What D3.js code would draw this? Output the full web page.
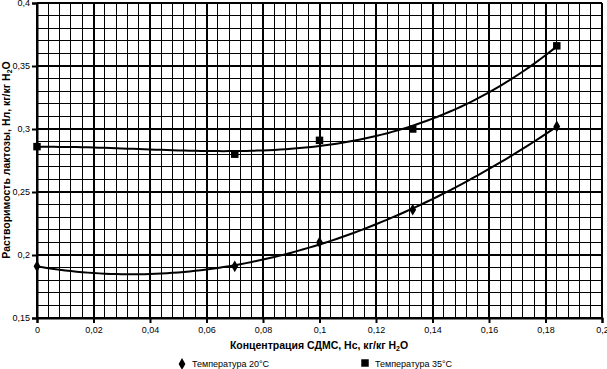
<!DOCTYPE html>
<html>
<head>
<meta charset="utf-8">
<script src="https://cdn.jsdelivr.net/npm/d3@7"></script>
<style>
  body { margin: 0; background: #fff; }
  svg { display: block; font-family: "Liberation Sans", Arial, sans-serif; }
</style>
</head>
<body>
<div id="chart"></div>
<script>
// Data
var concentration = [0, 0.07, 0.1, 0.133, 0.184];
var solubility20 = [0.191, 0.191, 0.21, 0.236, 0.302];
var solubility35 = [0.286, 0.280, 0.291, 0.300, 0.366];
var seriesNames = ["Температура 20°C", "Температура 35°C"];
var trendNames = ["Полиномиальный (Температура 20°C)", "Полиномиальный (Температура 35°C)"];
var xTicks = [0, 0.02, 0.04, 0.06, 0.08, 0.1, 0.12, 0.14, 0.16, 0.18, 0.2];
var yTicks = [0.15, 0.2, 0.25, 0.3, 0.35, 0.4];

// Basic size information
var width = 607, height = 369;
var plot = {left: 37, right: 602, top: 3, bottom: 318};
var trendOrder = 3;

var svg = d3.select("#chart").append("svg")
    .attr("width", width)
    .attr("height", height);

var x = d3.scaleLinear().domain([0, 0.2]).range([plot.left, plot.right]);
var y = d3.scaleLinear().domain([0.15, 0.4]).range([plot.bottom, plot.top]);

var fmt = d => String(+d.toFixed(3)).replace(".", ",");

// Grid: minor lines first, majors on top
var grid = svg.append("g").attr("shape-rendering", "crispEdges");
var xMinor = d3.range(0, 0.2001, 0.004);
var yMinor = d3.range(0.15, 0.4001, 0.01);
grid.selectAll(".vminor").data(xMinor).join("line")
    .attr("x1", d => x(d)).attr("x2", d => x(d))
    .attr("y1", plot.top).attr("y2", plot.bottom)
    .attr("stroke", "#000").attr("stroke-width", 1);
grid.selectAll(".hminor").data(yMinor).join("line")
    .attr("y1", d => y(d)).attr("y2", d => y(d))
    .attr("x1", plot.left).attr("x2", plot.right)
    .attr("stroke", "#000").attr("stroke-width", 1);
grid.selectAll(".vmajor").data(xTicks).join("line")
    .attr("x1", d => x(d)).attr("x2", d => x(d))
    .attr("y1", plot.top).attr("y2", plot.bottom)
    .attr("stroke", "#000").attr("stroke-width", 2);
grid.selectAll(".hmajor").data(yTicks).join("line")
    .attr("y1", d => y(d)).attr("y2", d => y(d))
    .attr("x1", plot.left).attr("x2", plot.right)
    .attr("stroke", "#000").attr("stroke-width", 2);

// Axes
svg.append("g")
    .attr("transform", "translate(0," + plot.bottom + ")")
    .call(d3.axisBottom(x).tickValues(xTicks).tickFormat(fmt).tickSize(5).tickPadding(4))
    .call(g => g.select(".domain").attr("stroke-width", 2))
    .call(g => g.selectAll(".tick line").attr("stroke-width", 2))
    .call(g => g.selectAll("text").attr("font-size", 9).attr("fill", "#000"));

svg.append("g")
    .attr("transform", "translate(" + plot.left + ",0)")
    .call(d3.axisLeft(y).tickValues(yTicks).tickFormat(fmt).tickSize(5).tickPadding(2))
    .call(g => g.select(".domain").attr("stroke-width", 2))
    .call(g => g.selectAll(".tick line").attr("stroke-width", 2))
    .call(g => g.selectAll("text").attr("font-size", 9).attr("fill", "#000"));

// Polynomial trendline (least squares), as the spreadsheet draws it
function polyFit(xs, ys, order) {
    var n = order + 1;
    var A = [], b = [];
    for (var i = 0; i < n; i++) {
        A.push([]);
        for (var j = 0; j < n; j++) A[i].push(d3.sum(xs, v => Math.pow(v, i + j)));
        b.push(d3.sum(xs, (v, k) => ys[k] * Math.pow(v, i)));
    }
    // Gauss elimination
    for (var c = 0; c < n; c++) {
        for (var r = c + 1; r < n; r++) {
            var f = A[r][c] / A[c][c];
            for (var k = c; k < n; k++) A[r][k] -= f * A[c][k];
            b[r] -= f * b[c];
        }
    }
    var coef = new Array(n);
    for (var r2 = n - 1; r2 >= 0; r2--) {
        var s = b[r2];
        for (var k2 = r2 + 1; k2 < n; k2++) s -= A[r2][k2] * coef[k2];
        coef[r2] = s / A[r2][r2];
    }
    return v => d3.sum(coef, (cc, p) => cc * Math.pow(v, p));
}

var line = d3.line().x(d => x(d[0])).y(d => y(d[1]));

[solubility20, solubility35].forEach(function (ys) {
    var fit = polyFit(concentration, ys, trendOrder);
    var xs = d3.range(0, 0.1841, 0.002);
    svg.append("path")
        .datum(xs.map(v => [v, fit(v)]))
        .attr("d", line)
        .attr("fill", "none")
        .attr("stroke", "#000")
        .attr("stroke-width", 2);
});

// Markers
var diamond = d3.symbol().type(d3.symbolDiamond).size(40);
var square = d3.symbol().type(d3.symbolSquare).size(56);

svg.append("g").selectAll("path")
    .data(concentration.map((v, i) => [v, solubility20[i]]))
    .join("path")
    .attr("transform", d => "translate(" + x(d[0]) + "," + y(d[1]) + ")")
    .attr("d", diamond);

svg.append("g").selectAll("path")
    .data(concentration.map((v, i) => [v, solubility35[i]]))
    .join("path")
    .attr("transform", d => "translate(" + x(d[0]) + "," + y(d[1]) + ")")
    .attr("d", square);

// Axis titles
var xTitle = svg.append("text")
    .attr("x", 319).attr("y", 349)
    .attr("text-anchor", "middle")
    .attr("font-size", 10.5).attr("font-weight", "bold");
xTitle.append("tspan").text("Концентрация СДМС, Нс, кг/кг H");
xTitle.append("tspan").attr("font-size", 7).attr("dy", 2).text("2");
xTitle.append("tspan").attr("dy", -2).text("O");

var yTitle = svg.append("text")
    .attr("transform", "translate(10,160) rotate(-90)")
    .attr("text-anchor", "middle")
    .attr("font-size", 10.5).attr("font-weight", "bold");
yTitle.append("tspan").text("Растворимость лактозы, Нл, кг/кг H");
yTitle.append("tspan").attr("font-size", 7).attr("dy", 2).text("2");
yTitle.append("tspan").attr("dy", -2).text("O");

// Legend
var legend = svg.append("g").attr("font-size", 9);
legend.append("path").attr("transform", "translate(182,364)").attr("d", diamond);
legend.append("text").attr("x", 192).attr("y", 367).text(seriesNames[0]);
legend.append("path").attr("transform", "translate(365,363)").attr("d", square);
legend.append("text").attr("x", 375).attr("y", 367).text(seriesNames[1]);
// second legend row, mostly cut off by the picture edge
legend.append("line").attr("x1", 176).attr("x2", 188).attr("y1", 376).attr("y2", 376)
    .attr("stroke", "#000").attr("stroke-width", 2);
legend.append("text").attr("x", 192).attr("y", 377).text(trendNames[0]);
legend.append("line").attr("x1", 359).attr("x2", 371).attr("y1", 376).attr("y2", 376)
    .attr("stroke", "#000").attr("stroke-width", 2);
legend.append("text").attr("x", 375).attr("y", 377).text(trendNames[1]);
</script>
</body>
</html>
